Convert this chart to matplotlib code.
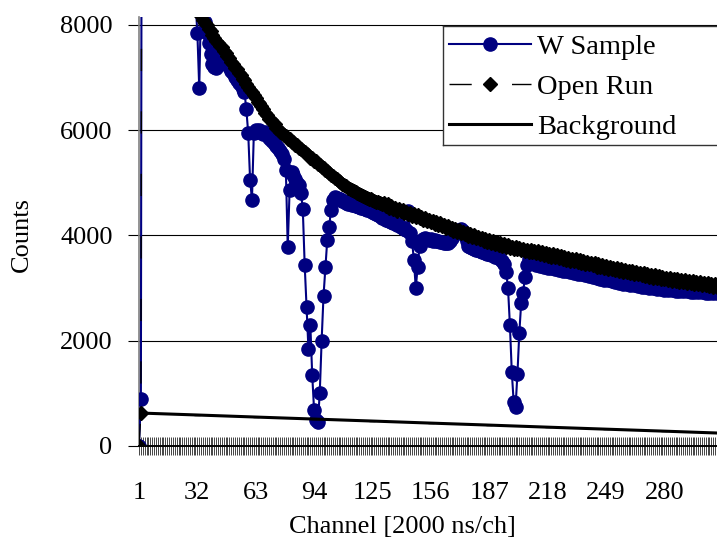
import numpy as np
import matplotlib.pyplot as plt
from matplotlib.lines import Line2D
from matplotlib.patches import Rectangle
from matplotlib.ticker import FixedLocator, MultipleLocator

plt.rcParams['font.family'] = ['Liberation Serif', 'DejaVu Serif']

# --- data: counts per channel (channel 1 .. 310) ---
w_sample = [
    0, 900, 26000, 24000, 22500, 21000, 19800, 18700, 17700, 16800,
    16000, 15200, 14500, 13900, 13300, 12800, 12300, 11900, 11500, 11100,
    10800, 10500, 10200, 9900, 9650, 9400, 9200, 9000, 8800, 8600,
    8450, 7850, 6800, 8500, 8250, 8050, 7850, 7650, 7450, 7250,
    7200, 7180, 7320, 7420, 7450, 7380, 7330, 7250, 7200, 7130,
    7080, 7010, 6960, 6900, 6850, 6790, 6730, 6400, 5950, 5060,
    4680, 5950, 6000, 5960, 6010, 5970, 5930, 5960, 5900, 5860,
    5820, 5770, 5730, 5690, 5660, 5600, 5550, 5450, 5250, 3780,
    4870, 5200, 5150, 5080, 5000, 4950, 4810, 4500, 3440, 2640,
    1840, 2300, 1350, 680, 490, 450, 1000, 2000, 2850, 3400,
    3920, 4160, 4490, 4680, 4730, 4720, 4690, 4700, 4660, 4650,
    4620, 4600, 4610, 4570, 4580, 4550, 4560, 4540, 4530, 4520,
    4510, 4490, 4480, 4460, 4450, 4420, 4410, 4380, 4370, 4340,
    4330, 4300, 4300, 4270, 4260, 4230, 4230, 4200, 4190, 4160,
    4150, 4120, 4100, 4460, 4050, 3900, 3540, 3000, 3400, 3800,
    3900, 3930, 3950, 3940, 3920, 3930, 3900, 3920, 3890, 3900,
    3880, 3870, 3860, 3850, 3860, 3900, 3950, 4000, 4050, 4080,
    4100, 4120, 4090, 3990, 3900, 3800, 3780, 3760, 3740, 3730,
    3720, 3700, 3690, 3680, 3670, 3650, 3640, 3630, 3620, 3600,
    3590, 3580, 3560, 3520, 3450, 3310, 3000, 2300, 1410, 840,
    740, 1370, 2150, 2720, 2910, 3220, 3440, 3550, 3540, 3560,
    3470, 3440, 3460, 3420, 3440, 3400, 3430, 3390, 3420, 3380,
    3410, 3370, 3400, 3350, 3390, 3330, 3370, 3320, 3360, 3300,
    3350, 3290, 3340, 3270, 3320, 3260, 3300, 3240, 3290, 3230,
    3270, 3210, 3260, 3200, 3240, 3180, 3230, 3160, 3210, 3150,
    3200, 3130, 3180, 3120, 3170, 3100, 3150, 3080, 3140, 3070,
    3130, 3060, 3120, 3050, 3110, 3040, 3100, 3030, 3090, 3020,
    3080, 3010, 3070, 3000, 3060, 2990, 3050, 2980, 3040, 2970,
    3030, 2970, 3020, 2960, 3010, 2950, 3000, 2950, 2990, 2940,
    2990, 2940, 2980, 2930, 2970, 2930, 2970, 2920, 2960, 2920,
    2960, 2910, 2950, 2910, 2950, 2900, 2940, 2900, 2930, 2890,
]

open_run = [
    0, 620, 24500, 22800, 21400, 20100, 19000, 18000, 17100, 16300,
    15500, 14800, 14200, 13600, 13100, 12600, 12150, 11750, 11350, 11000,
    10700, 10400, 10120, 9860, 9620, 9400, 9190, 8990, 8800, 8620,
    8460, 8330, 8240, 8170, 8090, 8030, 7990, 7930, 7880, 7810,
    7760, 7700, 7660, 7600, 7580, 7510, 7470, 7400, 7370, 7300,
    7260, 7190, 7160, 7090, 7050, 6980, 6950, 6880, 6820, 6760,
    6730, 6660, 6620, 6540, 6510, 6450, 6400, 6320, 6290, 6220,
    6190, 6130, 6110, 6040, 6020, 5970, 5950, 5900, 5880, 5840,
    5830, 5780, 5770, 5720, 5710, 5660, 5650, 5600, 5580, 5540,
    5530, 5480, 5470, 5420, 5410, 5360, 5340, 5300, 5280, 5240,
    5220, 5190, 5150, 5130, 5090, 5070, 5030, 5010, 4970, 4960,
    4930, 4910, 4880, 4860, 4840, 4830, 4800, 4790, 4760, 4750,
    4730, 4720, 4700, 4690, 4670, 4660, 4640, 4630, 4610, 4600,
    4610, 4560, 4590, 4530, 4560, 4500, 4530, 4470, 4500, 4460,
    4480, 4420, 4450, 4400, 4420, 4370, 4400, 4350, 4380, 4330,
    4350, 4300, 4330, 4270, 4300, 4250, 4280, 4220, 4250, 4200,
    4230, 4170, 4200, 4140, 4180, 4120, 4150, 4090, 4120, 4070,
    4100, 4040, 4070, 4020, 4050, 3990, 4020, 3970, 4000, 3950,
    3980, 3930, 3960, 3900, 3930, 3880, 3910, 3860, 3890, 3840,
    3870, 3820, 3850, 3800, 3830, 3780, 3810, 3770, 3790, 3750,
    3780, 3740, 3770, 3720, 3750, 3700, 3730, 3690, 3720, 3680,
    3710, 3660, 3700, 3640, 3680, 3630, 3660, 3610, 3650, 3600,
    3640, 3590, 3620, 3570, 3610, 3550, 3590, 3540, 3580, 3520,
    3560, 3510, 3550, 3490, 3530, 3480, 3510, 3460, 3500, 3450,
    3480, 3430, 3470, 3410, 3450, 3400, 3440, 3380, 3420, 3370,
    3410, 3360, 3390, 3340, 3380, 3330, 3360, 3310, 3350, 3300,
    3330, 3290, 3320, 3270, 3300, 3260, 3290, 3240, 3280, 3230,
    3260, 3220, 3250, 3200, 3240, 3190, 3230, 3180, 3210, 3170,
    3200, 3160, 3190, 3140, 3180, 3130, 3170, 3120, 3160, 3110,
    3150, 3100, 3140, 3090, 3130, 3080, 3120, 3070, 3110, 3060,
    3100, 3050, 3090, 3040, 3080, 3030, 3070, 3020, 3060, 3010,
]

# background read at the labelled channels
bg_channels = [1, 32, 63, 94, 125, 156, 187, 218, 249, 280, 311]
bg_counts = [627, 589, 550, 512, 474, 435, 397, 358, 320, 282, 243]

tick_channels = [1, 32, 63, 94, 125, 156, 187, 218, 249, 280]

channels = np.arange(1, len(open_run) + 1)

fig = plt.figure(figsize=(7.17, 5.43), dpi=100)
ax = fig.add_axes([139 / 717, 1 - 446 / 543, 1 - 139 / 717, (446 - 17) / 543])

navy = '#000080'
ax.plot(channels, w_sample, color=navy, lw=1.5, marker='o', ms=9.5,
        mfc=navy, mec=navy, label='W Sample', zorder=3)
ax.plot(channels, open_run, color='black', lw=1, ls=(0, (16, 29)), marker='D',
        ms=7, mfc='black', mec='black', label='Open Run', zorder=4)
ax.plot(bg_channels, bg_counts, color='black', lw=2.2, marker='_', ms=5,
        label='Background', zorder=5)

ax.set_xlim(1, 308)
ax.set_ylim(0, 8150)

ax.yaxis.set_major_locator(FixedLocator([0, 2000, 4000, 6000, 8000]))
ax.grid(axis='y', color='black', lw=0.8)
ax.set_axisbelow(True)

ax.xaxis.set_major_locator(FixedLocator(tick_channels))
ax.xaxis.set_minor_locator(MultipleLocator(1))
ax.set_xticklabels([str(t) for t in tick_channels])
ax.tick_params(axis='x', which='both', direction='inout', length=12.5,
               width=0.7, color='#444444')
ax.tick_params(axis='x', which='major', labelsize=19, pad=20)
ax.tick_params(axis='y', direction='out', length=8, width=0.8,
               labelsize=19, pad=11)

for s in ['top', 'right']:
    ax.spines[s].set_visible(False)
ax.spines['left'].set_color('#808080')
ax.spines['left'].set_linewidth(1.2)
ax.spines['bottom'].set_color('black')
ax.spines['bottom'].set_linewidth(1.4)
ax.spines['bottom'].set_zorder(2.5)

fig.text(22 / 717, 1 - 235 / 543, 'Counts', rotation=90, fontsize=19,
         ha='center', va='center')
fig.text(402 / 717, 1 - 527 / 543, 'Channel [2000 ns/ch]', fontsize=19,
         ha='center', va='center')

# legend box runs off the right edge of the picture (open on the right)
x0, x1 = 443 / 717, 1.0
y0, y1 = 1 - 145 / 543, 1 - 26 / 543
ax.add_artist(Rectangle((x0, y0), x1 - x0, y1 - y0, transform=fig.transFigure,
                        facecolor='white', edgecolor='none', clip_on=False,
                        zorder=6))
for xs, ys in [([x0, x1], [y1, y1]), ([x0, x0], [y0, y1]), ([x0, x1], [y0, y0])]:
    ax.add_artist(Line2D(xs, ys, transform=fig.transFigure, color='#333333',
                         lw=1.0, clip_on=False, zorder=6.5))

leg = ax.legend(loc='upper left', bbox_to_anchor=(443 / 717, 1 - 28 / 543),
                bbox_transform=fig.transFigure, fontsize=20.5, frameon=False,
                borderpad=0.2, labelspacing=0.5, handlelength=2.9,
                handletextpad=0.2, borderaxespad=0)
leg.set_zorder(7)

fig.savefig('out.png', dpi=100)
